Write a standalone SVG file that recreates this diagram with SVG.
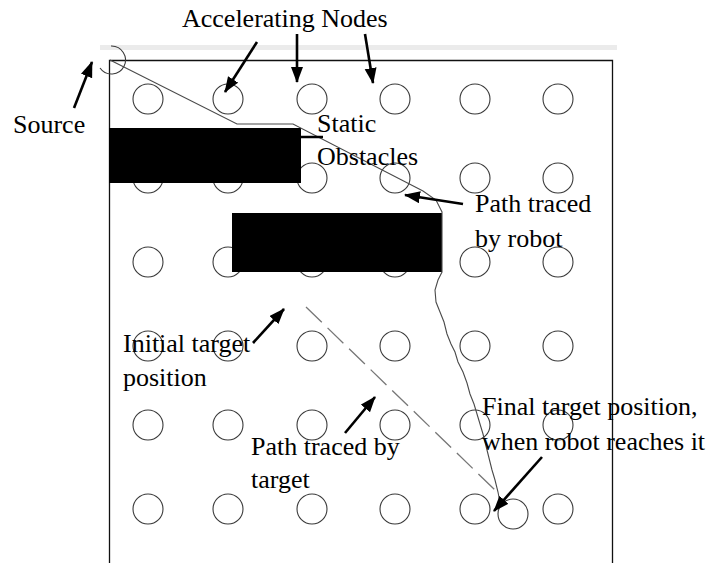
<svg xmlns="http://www.w3.org/2000/svg" width="710" height="563" viewBox="0 0 710 563">
<style>
  .lbl { font-family: "Liberation Serif", "Times New Roman", serif; font-size: 26px; fill: #000; }
  .node { fill: none; stroke: #3a3a3a; stroke-width: 1.1; }
  .obst { fill: #000; }
  .arrow { stroke: #000; stroke-width: 2.6; fill: none; marker-end: url(#ah); }
  .robot { stroke: #4a4a4a; stroke-width: 1.1; fill: none; }
  .target { stroke: #777; stroke-width: 1.3; fill: none; stroke-dasharray: 22 8; }
</style>
<defs>
  <marker id="ah" markerUnits="userSpaceOnUse" markerWidth="18" markerHeight="14" refX="15" refY="6" orient="auto">
    <path d="M0,0 L16,6 L0,12 Z" fill="#000"/>
  </marker>
</defs>
<rect x="0" y="0" width="710" height="563" fill="#fff"/>
<rect x="100" y="45" width="517" height="5" fill="#ebebeb"/>
<g id="frame">
  <polyline points="109.5,563 109.5,60.5 612.5,60.5 612.5,563" fill="none" stroke="#111" stroke-width="1.3"/>
</g>
<g id="accelerating-nodes">
  <circle class="node" cx="148" cy="99" r="15"/><circle class="node" cx="228" cy="99" r="15"/><circle class="node" cx="312" cy="99" r="15"/><circle class="node" cx="395" cy="99" r="15"/><circle class="node" cx="475" cy="99" r="15"/><circle class="node" cx="558" cy="99" r="15"/>
  <circle class="node" cx="148" cy="178" r="15"/><circle class="node" cx="228" cy="178" r="15"/><circle class="node" cx="312" cy="178" r="15"/><circle class="node" cx="395" cy="178" r="15"/><circle class="node" cx="475" cy="178" r="15"/><circle class="node" cx="558" cy="178" r="15"/>
  <circle class="node" cx="148" cy="262" r="15"/><circle class="node" cx="228" cy="262" r="15"/><circle class="node" cx="312" cy="262" r="15"/><circle class="node" cx="395" cy="262" r="15"/><circle class="node" cx="475" cy="262" r="15"/><circle class="node" cx="558" cy="262" r="15"/>
  <circle class="node" cx="148" cy="346" r="15"/><circle class="node" cx="228" cy="346" r="15"/><circle class="node" cx="312" cy="346" r="15"/><circle class="node" cx="395" cy="346" r="15"/><circle class="node" cx="475" cy="346" r="15"/><circle class="node" cx="558" cy="346" r="15"/>
  <circle class="node" cx="148" cy="425" r="15"/><circle class="node" cx="228" cy="425" r="15"/><circle class="node" cx="312" cy="425" r="15"/><circle class="node" cx="395" cy="425" r="15"/><circle class="node" cx="475" cy="425" r="15"/><circle class="node" cx="558" cy="425" r="15"/>
  <circle class="node" cx="148" cy="509" r="15"/><circle class="node" cx="228" cy="509" r="15"/><circle class="node" cx="312" cy="509" r="15"/><circle class="node" cx="395" cy="509" r="15"/><circle class="node" cx="475" cy="509" r="15"/><circle class="node" cx="558" cy="509" r="15"/>
</g>
<g id="source">
  <path class="node" d="M100,68 A14,14 0 1 0 111,46"/>
</g>
<g id="final-target">
  <circle class="node" cx="513" cy="514" r="15"/>
</g>
<g id="obstacle-1"><rect class="obst" x="109" y="128" width="192" height="55"/></g>
<g id="obstacle-2"><rect class="obst" x="232" y="213" width="210" height="59"/></g>
<g id="connectors">
  <polyline class="robot" points="110,60 237,124 293,124 423,191 436,200 442,212 442,272 438,280 435,290 436,302 440,312 444,322 447,334 451,344 455,352 458,362 463,372 467,383 470,394 474,404 477,414 480,424 483,434 486,446 489,458 492,470 495,480 498,492 500,503"/>
  <line class="target" x1="306" y1="307" x2="495" y2="490"/>
  <line x1="300" y1="137" x2="323" y2="137" stroke="#000" stroke-width="2.5"/>
  <line class="arrow" x1="74" y1="108" x2="92" y2="62"/>
  <line class="arrow" x1="257" y1="42" x2="225" y2="92"/>
  <line class="arrow" x1="297" y1="34" x2="297" y2="82"/>
  <line class="arrow" x1="365" y1="34" x2="373" y2="83"/>
  <line class="arrow" x1="463" y1="204" x2="405" y2="195"/>
  <line class="arrow" x1="253" y1="343" x2="284" y2="309"/>
  <line class="arrow" x1="345" y1="433" x2="375" y2="397"/>
  <line class="arrow" x1="542" y1="457" x2="494" y2="511"/>
</g>
<g id="labels">
  <text class="lbl" x="182" y="27">Accelerating Nodes</text>
  <text class="lbl" x="13" y="133">Source</text>
  <text class="lbl" x="317" y="132">Static</text>
  <text class="lbl" x="317" y="165">Obstacles</text>
  <text class="lbl" x="475" y="212">Path traced</text>
  <text class="lbl" x="475" y="247">by robot</text>
  <text class="lbl" x="123" y="352">Initial target</text>
  <text class="lbl" x="123" y="386">position</text>
  <text class="lbl" x="251" y="455">Path traced by</text>
  <text class="lbl" x="251" y="488">target</text>
  <text class="lbl" x="482" y="415">Final target position,</text>
  <text class="lbl" x="482" y="450">when robot reaches it</text>
</g>
</svg>
